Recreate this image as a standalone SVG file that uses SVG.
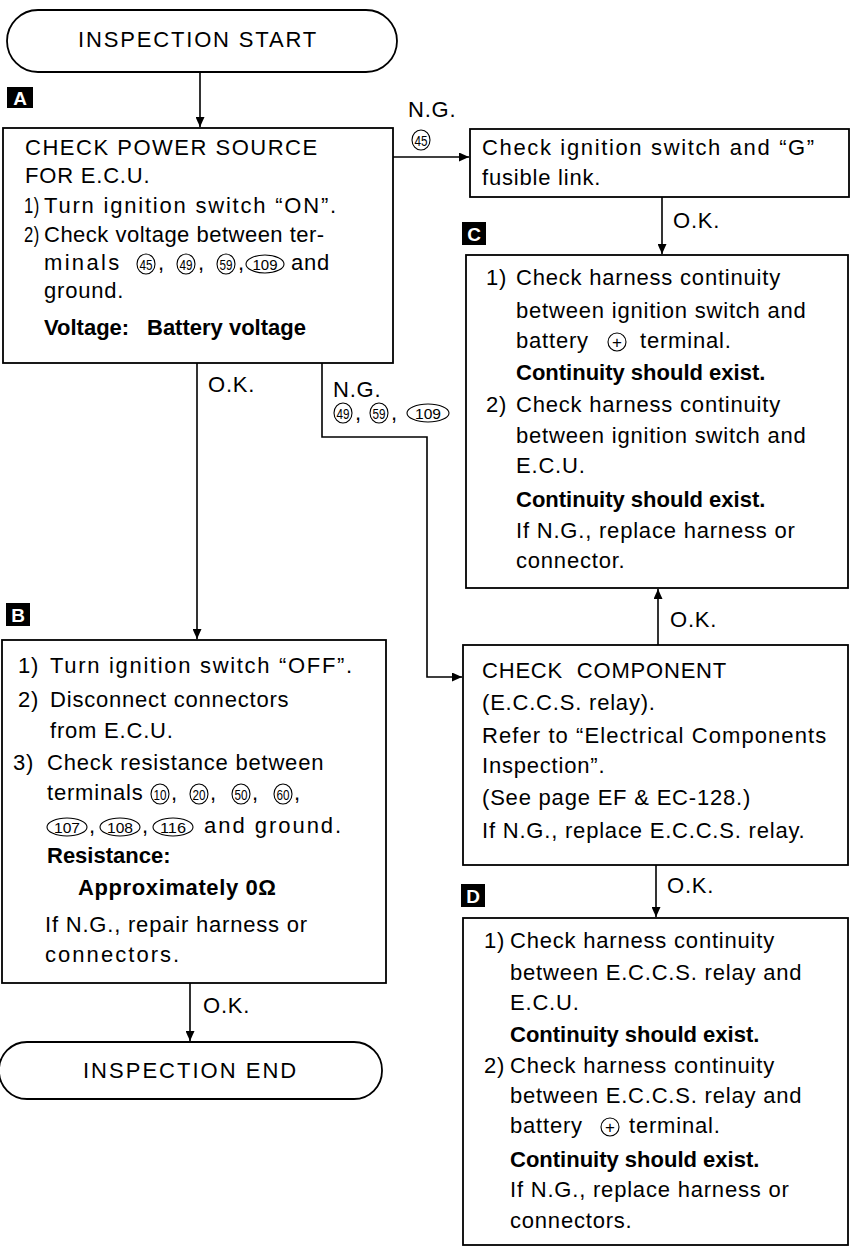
<svg xmlns="http://www.w3.org/2000/svg" width="852" height="1249" viewBox="0 0 852 1249">
<defs>
<style>
.t{font-family:"Liberation Sans",Arial,sans-serif;font-size:22px;letter-spacing:0.8px;fill:#000}
.b{font-weight:bold;letter-spacing:0}
.box{fill:#fff;stroke:#000;stroke-width:1.8}
.ring{fill:none;stroke:#000;stroke-width:1.1}
.cn{font-family:"Liberation Sans",Arial,sans-serif;font-size:15px;text-anchor:middle;fill:#000}
.lb{fill:#000}
.lt{font-family:"Liberation Sans",Arial,sans-serif;font-size:19px;font-weight:bold;fill:#fff;text-anchor:middle}
.conn{fill:none;stroke:#000;stroke-width:1.6}
</style>
<marker id="ah" markerUnits="userSpaceOnUse" markerWidth="10" markerHeight="9" refX="10" refY="4.5" orient="auto">
<path d="M0,0 L10,4.5 L0,9 z" fill="#000"/>
</marker>
</defs>
<rect x="0" y="0" width="852" height="1249" fill="#fff"/>

<g id="connectors">
<line class="conn" x1="200" y1="72" x2="200" y2="127" marker-end="url(#ah)"/>
<line class="conn" x1="393" y1="157" x2="469" y2="157" marker-end="url(#ah)"/>
<line class="conn" x1="662" y1="197" x2="662" y2="254" marker-end="url(#ah)"/>
<line class="conn" x1="197" y1="363" x2="197" y2="639" marker-end="url(#ah)"/>
<polyline class="conn" points="322,363 322,437 427,437 427,677 462,677" marker-end="url(#ah)"/>
<line class="conn" x1="658" y1="645" x2="658" y2="589" marker-end="url(#ah)"/>
<line class="conn" x1="656" y1="865" x2="656" y2="917" marker-end="url(#ah)"/>
<line class="conn" x1="190" y1="983" x2="190" y2="1041" marker-end="url(#ah)"/>
<text class="t" x="408" y="117">N.G.</text>
<ellipse class="ring" cx="421" cy="140" rx="9" ry="10"/><text class="cn" x="421" y="145.5" textLength="13" lengthAdjust="spacingAndGlyphs">45</text>
<text class="t" x="673" y="228">O.K.</text>
<text class="t" x="208" y="392">O.K.</text>
<text class="t" x="333" y="397">N.G.</text>
<ellipse class="ring" cx="343" cy="413" rx="9" ry="10"/><text class="cn" x="343" y="418.5" textLength="13" lengthAdjust="spacingAndGlyphs">49</text>
<text class="t" x="355" y="420">,</text>
<ellipse class="ring" cx="379" cy="413" rx="9" ry="10"/><text class="cn" x="379" y="418.5" textLength="13" lengthAdjust="spacingAndGlyphs">59</text>
<text class="t" x="391" y="420">,</text>
<ellipse class="ring" cx="428" cy="413" rx="21" ry="9"/><text class="cn" x="428" y="418.5" textLength="26" lengthAdjust="spacingAndGlyphs">109</text>
<text class="t" x="670" y="627">O.K.</text>
<text class="t" x="667" y="893">O.K.</text>
<text class="t" x="203" y="1013">O.K.</text>
</g>

<g id="start">
<rect class="box" x="7" y="10" width="390" height="62" rx="31" ry="31"/>
<text class="t" x="78" y="47" textLength="239" lengthAdjust="spacing">INSPECTION START</text>
</g>

<g id="labelA"><rect class="lb" x="7" y="87" width="26" height="21"/><text class="lt" x="20" y="104.5">A</text></g>
<g id="labelB"><rect class="lb" x="6" y="603" width="24" height="23"/><text class="lt" x="18" y="621.5">B</text></g>
<g id="labelC"><rect class="lb" x="462" y="222" width="24" height="23"/><text class="lt" x="474" y="240.5">C</text></g>
<g id="labelD"><rect class="lb" x="461" y="884" width="24" height="23"/><text class="lt" x="473" y="902.5">D</text></g>

<g id="nodeA">
<rect class="box" x="3" y="128" width="390" height="235"/>
<text class="t" x="25" y="155" textLength="293" lengthAdjust="spacing">CHECK POWER SOURCE</text>
<text class="t" x="25" y="183">FOR E.C.U.</text>
<text class="t" x="24" y="213" textLength="16" lengthAdjust="spacingAndGlyphs">1)</text><text class="t" x="44" y="213" textLength="293" lengthAdjust="spacing">Turn ignition switch “ON”.</text>
<text class="t" x="24" y="242" textLength="16" lengthAdjust="spacingAndGlyphs">2)</text><text class="t" x="44" y="242" textLength="281" lengthAdjust="spacing">Check voltage between ter-</text>
<text class="t" x="44" y="270" textLength="76" lengthAdjust="spacing">minals</text>
<ellipse class="ring" cx="146" cy="264" rx="9" ry="10"/><text class="cn" x="146" y="269.5" textLength="13" lengthAdjust="spacingAndGlyphs">45</text>
<text class="t" x="158" y="270">,</text>
<ellipse class="ring" cx="186" cy="264" rx="9" ry="10"/><text class="cn" x="186" y="269.5" textLength="13" lengthAdjust="spacingAndGlyphs">49</text>
<text class="t" x="198" y="270">,</text>
<ellipse class="ring" cx="226" cy="264" rx="9" ry="10"/><text class="cn" x="226" y="269.5" textLength="13" lengthAdjust="spacingAndGlyphs">59</text>
<text class="t" x="238" y="270">,</text>
<ellipse class="ring" cx="265" cy="264" rx="19" ry="9"/><text class="cn" x="265" y="269.5" textLength="25" lengthAdjust="spacingAndGlyphs">109</text>
<text class="t" x="291" y="270">and</text>
<text class="t" x="44" y="298">ground.</text>
<text class="t b" x="44" y="335">Voltage:</text><text class="t b" x="147" y="335">Battery voltage</text>
</g>

<g id="nodeIgn">
<rect class="box" x="470" y="129" width="379" height="68"/>
<text class="t" x="482" y="155" textLength="333" lengthAdjust="spacing">Check ignition switch and “G”</text>
<text class="t" x="482" y="185">fusible link.</text>
</g>

<g id="nodeC">
<rect class="box" x="466" y="255" width="382" height="333"/>
<text class="t" x="486" y="285">1)</text><text class="t" x="516" y="285">Check harness continuity</text>
<text class="t" x="516" y="318">between ignition switch and</text>
<text class="t" x="516" y="348">battery</text>
<circle class="ring" cx="617" cy="342" r="9"/><text class="cn" x="617" y="348" style="font-size:17px">+</text>
<text class="t" x="640" y="348">terminal.</text>
<text class="t b" x="516" y="380">Continuity should exist.</text>
<text class="t" x="486" y="412">2)</text><text class="t" x="516" y="412">Check harness continuity</text>
<text class="t" x="516" y="443">between ignition switch and</text>
<text class="t" x="516" y="473">E.C.U.</text>
<text class="t b" x="516" y="507">Continuity should exist.</text>
<text class="t" x="516" y="538">If N.G., replace harness or</text>
<text class="t" x="516" y="568">connector.</text>
</g>

<g id="nodeComp">
<rect class="box" x="463" y="645" width="385" height="220"/>
<text class="t" x="482" y="678" xml:space="preserve">CHECK  COMPONENT</text>
<text class="t" x="482" y="710">(E.C.C.S. relay).</text>
<text class="t" x="482" y="743" textLength="345" lengthAdjust="spacing">Refer to “Electrical Components</text>
<text class="t" x="482" y="773">Inspection”.</text>
<text class="t" x="482" y="805">(See page EF &amp; EC-128.)</text>
<text class="t" x="482" y="838">If N.G., replace E.C.C.S. relay.</text>
</g>

<g id="nodeD">
<rect class="box" x="463" y="918" width="385" height="327"/>
<text class="t" x="484" y="948">1)</text><text class="t" x="510" y="948">Check harness continuity</text>
<text class="t" x="510" y="980">between E.C.C.S. relay and</text>
<text class="t" x="510" y="1010">E.C.U.</text>
<text class="t b" x="510" y="1042">Continuity should exist.</text>
<text class="t" x="484" y="1073">2)</text><text class="t" x="510" y="1073">Check harness continuity</text>
<text class="t" x="510" y="1103">between E.C.C.S. relay and</text>
<text class="t" x="510" y="1133">battery</text>
<circle class="ring" cx="610" cy="1127" r="9"/><text class="cn" x="610" y="1133" style="font-size:17px">+</text>
<text class="t" x="629" y="1133">terminal.</text>
<text class="t b" x="510" y="1167">Continuity should exist.</text>
<text class="t" x="510" y="1197">If N.G., replace harness or</text>
<text class="t" x="510" y="1228">connectors.</text>
</g>

<g id="nodeB">
<rect class="box" x="2" y="640" width="384" height="343"/>
<text class="t" x="18" y="673">1)</text><text class="t" x="50" y="673" textLength="303" lengthAdjust="spacing">Turn ignition switch “OFF”.</text>
<text class="t" x="18" y="707">2)</text><text class="t" x="50" y="707">Disconnect connectors</text>
<text class="t" x="50" y="738">from E.C.U.</text>
<text class="t" x="13" y="770">3)</text><text class="t" x="47" y="770">Check resistance between</text>
<text class="t" x="47" y="800">terminals</text>
<ellipse class="ring" cx="160" cy="794" rx="9" ry="10"/><text class="cn" x="160" y="799.5" textLength="13" lengthAdjust="spacingAndGlyphs">10</text>
<text class="t" x="171" y="800">,</text>
<ellipse class="ring" cx="199" cy="794" rx="9" ry="10"/><text class="cn" x="199" y="799.5" textLength="13" lengthAdjust="spacingAndGlyphs">20</text>
<text class="t" x="210" y="800">,</text>
<ellipse class="ring" cx="241" cy="794" rx="9" ry="10"/><text class="cn" x="241" y="799.5" textLength="13" lengthAdjust="spacingAndGlyphs">50</text>
<text class="t" x="252" y="800">,</text>
<ellipse class="ring" cx="283" cy="794" rx="9" ry="10"/><text class="cn" x="283" y="799.5" textLength="13" lengthAdjust="spacingAndGlyphs">60</text>
<text class="t" x="294" y="800">,</text>
<ellipse class="ring" cx="67" cy="827" rx="20" ry="9"/><text class="cn" x="67" y="832.5" textLength="26" lengthAdjust="spacingAndGlyphs">107</text>
<text class="t" x="89" y="833">,</text>
<ellipse class="ring" cx="120" cy="827" rx="20" ry="9"/><text class="cn" x="120" y="832.5" textLength="26" lengthAdjust="spacingAndGlyphs">108</text>
<text class="t" x="142" y="833">,</text>
<ellipse class="ring" cx="173" cy="827" rx="20" ry="9"/><text class="cn" x="173" y="832.5" textLength="26" lengthAdjust="spacingAndGlyphs">116</text>
<text class="t" x="204" y="833" textLength="138" lengthAdjust="spacing">and ground.</text>
<text class="t b" x="47" y="863">Resistance:</text>
<text class="t b" x="78" y="895" textLength="198" lengthAdjust="spacing">Approximately 0Ω</text>
<text class="t" x="45" y="932">If N.G., repair harness or</text>
<text class="t" x="45" y="962" textLength="135" lengthAdjust="spacing">connectors.</text>
</g>

<g id="end">
<rect class="box" x="-1" y="1042" width="383" height="57" rx="28" ry="28"/>
<text class="t" x="83" y="1078" textLength="214" lengthAdjust="spacing">INSPECTION END</text>
</g>
</svg>
